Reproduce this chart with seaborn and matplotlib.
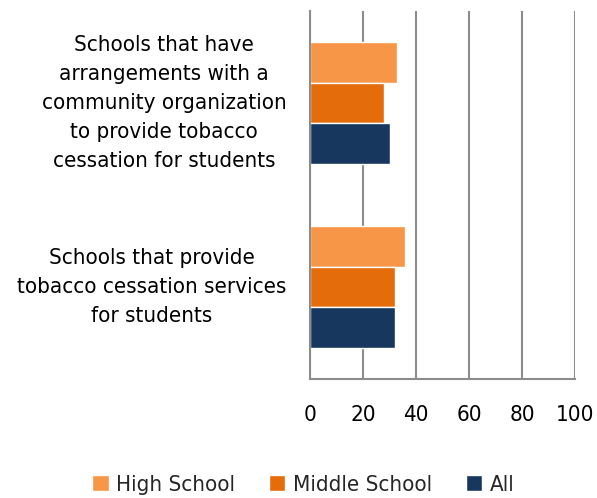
import matplotlib
matplotlib.use("Agg")
import matplotlib.pyplot as plt
from matplotlib.ticker import FixedLocator
import seaborn as sns
import pandas as pd

categories = [
    "Schools that have\narrangements with a\ncommunity organization\nto provide tobacco\ncessation for students",
    "Schools that provide\ntobacco cessation services\nfor students",
]
groups = ["High School", "Middle School", "All"]
values = {
    "High School": [33, 36],
    "Middle School": [28, 32],
    "All": [30, 32],
}
colors = ["#F79646", "#E46C0A", "#17375E"]

rows = []
for g in groups:
    for c, v in zip(categories, values[g]):
        rows.append({"category": c, "group": g, "value": v})
df = pd.DataFrame(rows)

sns.set_style("white")
plt.rcParams["font.family"] = ["DejaVu Sans"]
plt.rcParams["font.stretch"] = "condensed"

fs = 16
fig = plt.figure(figsize=(5.97, 4.98), dpi=100)
ax = fig.add_axes([310 / 597, 1 - 379 / 498, 265 / 597, 368 / 498])

sns.barplot(
    data=df, y="category", x="value", hue="group", hue_order=groups,
    order=categories, palette=colors, orient="h", width=0.66,
    saturation=1, ax=ax, legend=True,
)

grid_col = "#8C8C8C"
ax.set_xlim(0, 100)
ax.set_ylim(1.5, -0.5)
ax.set_xticks([0, 20, 40, 60, 80, 100])
ax.xaxis.grid(True, color=grid_col, linewidth=1.5)
ax.set_axisbelow(True)
for s in ["top", "right"]:
    ax.spines[s].set_visible(False)
for s in ["left", "bottom"]:
    ax.spines[s].set_color(grid_col)
    ax.spines[s].set_linewidth(1.5)

ax.tick_params(axis="x", length=5, width=1.5, color=grid_col, pad=14,
               labelsize=fs, labelcolor="black")
ax.tick_params(axis="y", which="major", length=0, pad=17, labelsize=fs,
               labelcolor="black")
ax.yaxis.set_minor_locator(FixedLocator([-0.5, 0.5, 1.5]))
ax.tick_params(axis="y", which="minor", length=6, width=1.5, color=grid_col)
for lbl in ax.get_yticklabels():
    lbl.set_multialignment("center")
    lbl.set_horizontalalignment("right")
    lbl.set_verticalalignment("center")
    lbl.set_linespacing(1.55)

ax.set_xlabel("")
ax.set_ylabel("")

handles, labels = ax.get_legend_handles_labels()
ax.get_legend().remove()
fig.legend(handles, labels, loc="center", bbox_to_anchor=(0.508, 1 - 485 / 498),
           ncol=3, frameon=False, fontsize=fs, handlelength=0.75,
           handleheight=0.75, handletextpad=0.35, columnspacing=1.5)

fig.savefig("out.png", dpi=100)
